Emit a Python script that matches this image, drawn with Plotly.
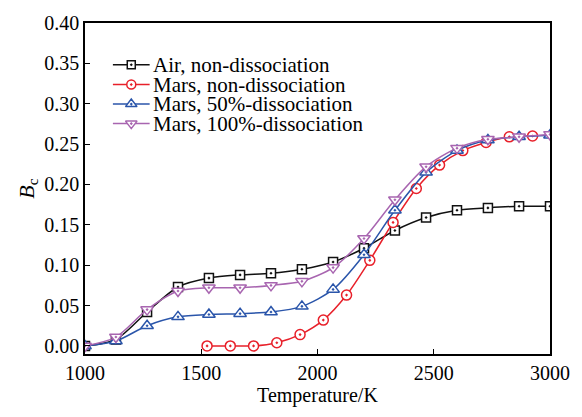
import plotly.graph_objects as go

# Data
T16 = [1000, 1133, 1267, 1400, 1533, 1667, 1800, 1933, 2067, 2200, 2333, 2467, 2600, 2733, 2867, 3000]
air_nd = [0.000, 0.008, 0.042, 0.073, 0.084, 0.088, 0.090, 0.095, 0.104, 0.121, 0.143, 0.159, 0.168, 0.171, 0.173, 0.173]
T_red = [1525, 1625, 1725, 1825, 1925, 2025, 2125, 2225, 2325, 2425, 2525, 2625, 2725, 2825, 2925]
mars_nd = [0.000, 0.000, 0.000, 0.004, 0.014, 0.032, 0.063, 0.106, 0.153, 0.195, 0.224, 0.242, 0.252, 0.259, 0.260]
mars_50 = [0.000, 0.006, 0.025, 0.036, 0.039, 0.040, 0.042, 0.049, 0.070, 0.113, 0.168, 0.215, 0.242, 0.255, 0.259, 0.261]
mars_100 = [0.000, 0.011, 0.045, 0.068, 0.072, 0.072, 0.075, 0.080, 0.097, 0.133, 0.181, 0.222, 0.245, 0.256, 0.259, 0.262]

names = ["Air, non-dissociation", "Mars, non-dissociation", "Mars, 50%-dissociation", "Mars, 100%-dissociation"]
colors = ["#111111", "#e8202a", "#2a55aa", "#a865b0"]
symbols = ["square-dot", "circle-dot", "triangle-up-dot", "triangle-down-dot"]
sizes = [9, 10, 11, 11]
xs = [T16, T_red, T16, T16]
ys = [air_nd, mars_nd, mars_50, mars_100]

FONT = "Liberation Serif"

fig = go.Figure()
for x, y, c, s, sz, n in zip(xs, ys, colors, symbols, sizes, names):
    fig.add_trace(go.Scatter(
        x=x, y=y, name=n, mode="lines+markers",
        line=dict(color=c, width=1.5, shape="spline", smoothing=0.8),
        marker=dict(symbol=s, size=sz, color="white", line=dict(color=c, width=1.5)),
        showlegend=False,
    ))

# Manual legend (overlay axes in 0..1 units)
leg_y = [0.874, 0.814, 0.755, 0.696]
for ly, c, s, sz, n in zip(leg_y, colors, symbols, sizes, names):
    fig.add_trace(go.Scatter(
        x=[0.060, 0.0995, 0.139], y=[ly, ly, ly], mode="lines",
        line=dict(color=c, width=1.5), xaxis="x2", yaxis="y2", showlegend=False, hoverinfo="skip"))
    fig.add_trace(go.Scatter(
        x=[0.0995], y=[ly], mode="markers",
        marker=dict(symbol=s, size=sz - 1, color="white", line=dict(color=c, width=1.5)),
        xaxis="x2", yaxis="y2", showlegend=False, hoverinfo="skip"))
    fig.add_annotation(x=0.141, y=ly, xref="x2", yref="y2", text=n, showarrow=False,
                       xanchor="left", yanchor="middle", font=dict(family=FONT, size=21, color="black"))

fig.update_layout(
    width=582, height=417,
    margin=dict(l=85, r=29, t=12, b=63),
    paper_bgcolor="white", plot_bgcolor="white",
    font=dict(family=FONT, size=20, color="black"),
    xaxis=dict(range=[1000, 3000], tickvals=[1000, 1500, 2000, 2500, 3000],
               ticks="inside", ticklen=5, tickwidth=1.2, tickcolor="black",
               showline=True, linecolor="black", linewidth=1.5, mirror=True,
               showgrid=False, zeroline=False,
               tickfont=dict(family=FONT, size=20),
               title=dict(text="Temperature/K", standoff=2, font=dict(family=FONT, size=20))),
    yaxis=dict(range=[-0.01, 0.40], tickvals=[0, 0.05, 0.1, 0.15, 0.2, 0.25, 0.3, 0.35, 0.4],
               tickformat=".2f",
               ticks="inside", ticklen=5, tickwidth=1.2, tickcolor="black",
               showline=True, linecolor="black", linewidth=1.5, mirror=True,
               showgrid=False, zeroline=False,
               tickfont=dict(family=FONT, size=20),
               title=dict(text="<i>B</i><sub>c</sub>", standoff=4, font=dict(family=FONT, size=22))),
    xaxis2=dict(overlaying="x", range=[0, 1], visible=False),
    yaxis2=dict(overlaying="y", range=[0, 1], visible=False),
)

fig.write_html("out.html")
